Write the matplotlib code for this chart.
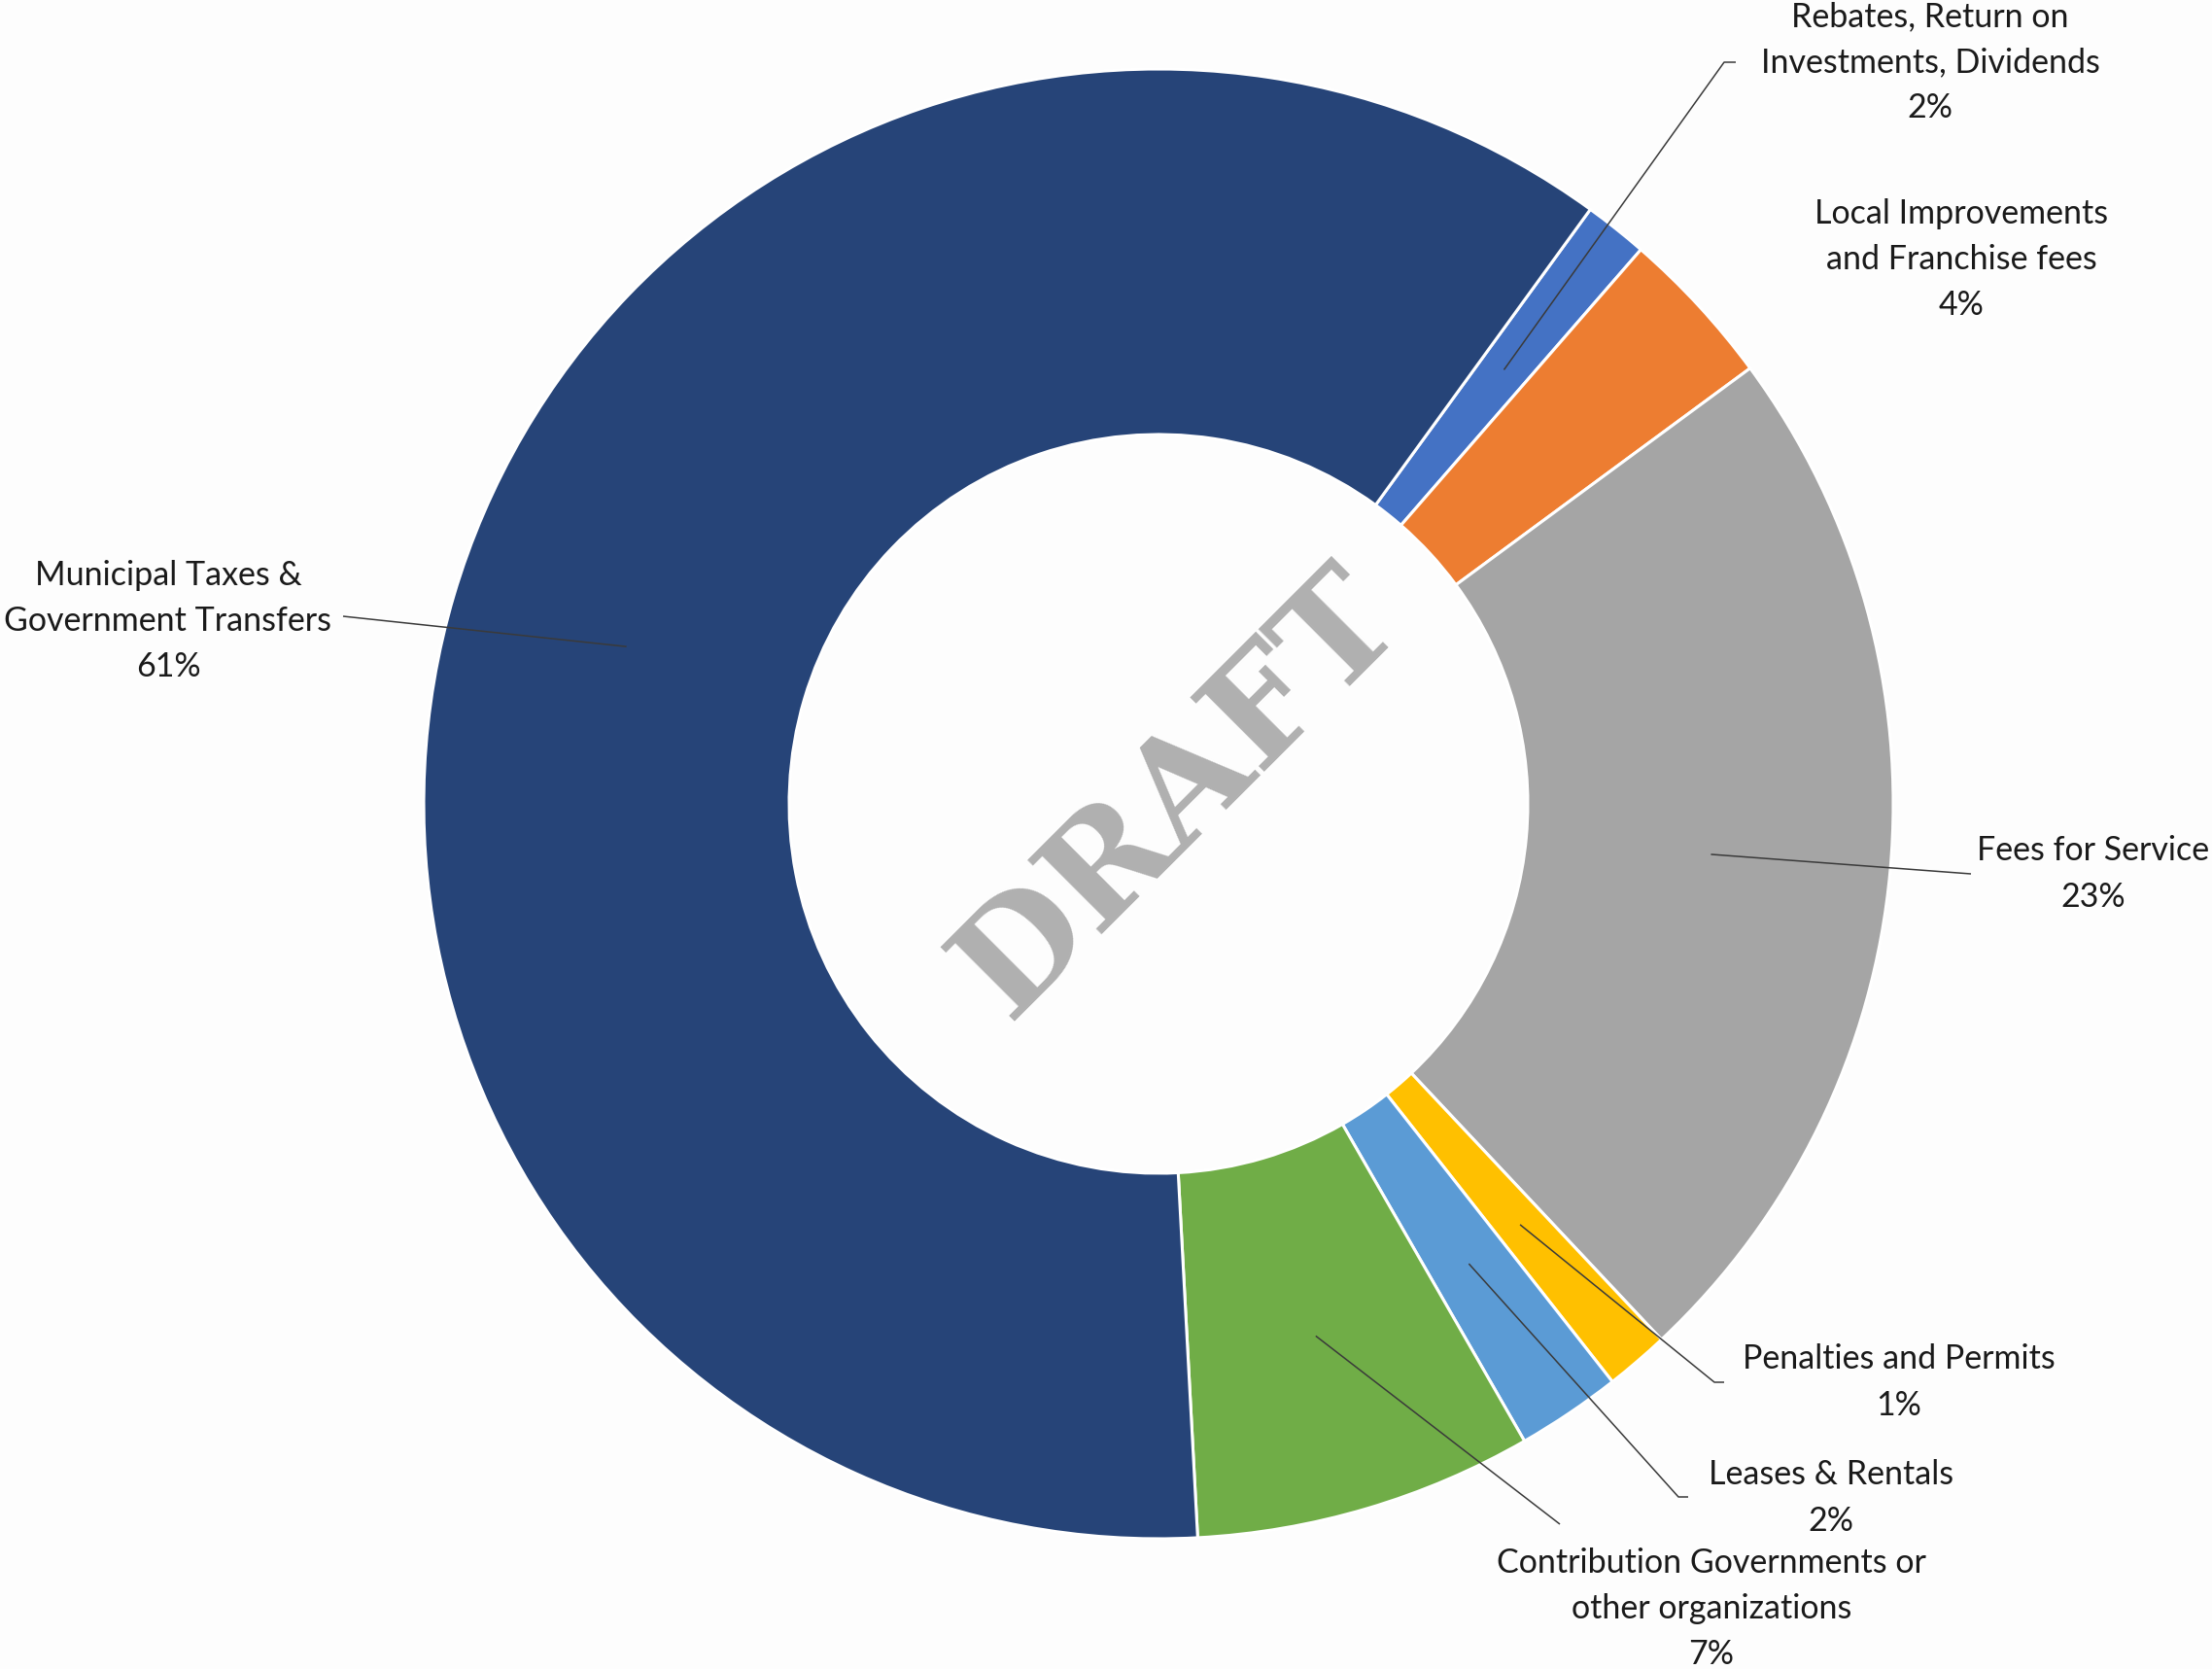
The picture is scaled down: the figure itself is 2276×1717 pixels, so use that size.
import numpy as np
import matplotlib
matplotlib.use("Agg")
import matplotlib.pyplot as plt

W, H = 2276, 1717

# revenue shares (%), clockwise from the first slice
labels = ["Rebates, Return on\nInvestments, Dividends",
          "Local Improvements\nand Franchise fees",
          "Fees for Service",
          "Penalties and Permits",
          "Leases & Rentals",
          "Contribution Governments or\nother organizations",
          "Municipal Taxes &\nGovernment Transfers"]
values = [1.4, 3.5, 23.1, 1.4, 2.3, 7.45, 60.85]
pct_text = ["2%", "4%", "23%", "1%", "2%", "7%", "61%"]
colors = ["#4472C4", "#ED7D31", "#A5A5A5", "#FFC000", "#5B9BD5", "#70AD47", "#264478"]

# label layout (pixel coords, y from top); leader end points, None = no leader
text_pos = [(1986, 64), (2018, 267), (2154, 899), (1954, 1422),
            (1884, 1541), (1761, 1655), (173, 639)]
leader_end = [[(1774, 64), (1786, 64)], None, [(2028, 899)],
              [(1764, 1422), (1774, 1422)], [(1727, 1540), (1737, 1540)],
              [(1605, 1568)], [(353, 634)]]

cx, cy, R, ring = 1192, 827, 756, 376
start = 54

def P(x, y):
    return x, H - y

fig = plt.figure(figsize=(W / 100, H / 100), dpi=100)
fig.patch.set_facecolor("#FDFDFD")
ax = fig.add_axes([0, 0, 1, 1])
ax.set_facecolor("#FDFDFD")

ax.pie(values, colors=colors, startangle=start, counterclock=False,
       center=P(cx, cy), radius=R,
       wedgeprops=dict(width=ring, edgecolor="white", linewidth=2.2))
ax.set_xlim(0, W)
ax.set_ylim(0, H)
ax.set_aspect("equal")
ax.axis("off")

total = sum(values)
cum = np.cumsum([0] + values[:-1])
for i in range(len(values)):
    mid = np.deg2rad(start - (cum[i] + values[i] / 2) / total * 360)
    ax_x = cx + 0.755 * R * np.cos(mid)
    ax_y = cy - 0.755 * R * np.sin(mid)
    if leader_end[i] is not None:
        pts = [(ax_x, ax_y)] + leader_end[i]
        xs = [P(*p)[0] for p in pts]
        ys = [P(*p)[1] for p in pts]
        ax.plot(xs, ys, color="#3a3a3a", lw=1.1, solid_capstyle="butt")
    tx, ty = P(*text_pos[i])
    ax.text(tx, ty, labels[i] + "\n" + pct_text[i], ha="center", va="center",
            fontsize=24.5, family="Lato", color="#1a1a1a", linespacing=1.58)

ax.text(*P(1213, 818), "DRAFT", rotation=45, rotation_mode="anchor",
        ha="center", va="center", fontsize=106, fontweight="bold",
        family="DejaVu Serif", color="#B0B0B0")

fig.savefig("out.png", dpi=100, facecolor=fig.get_facecolor())
